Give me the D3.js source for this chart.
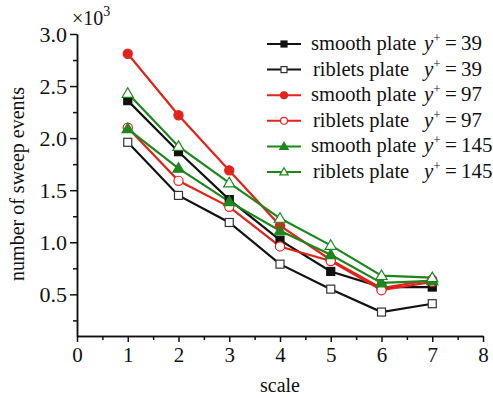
<!DOCTYPE html>
<html>
<head>
<meta charset="utf-8">
<script src="https://cdn.jsdelivr.net/npm/d3@7"></script>
<style>
  body { margin: 0; background: #fff; }
  svg text { font-family: "Liberation Serif", "Times New Roman", serif; fill: #111; }
  .axis path, .axis line { stroke: #111; stroke-width: 1.5; }
</style>
</head>
<body>
<script>
// data (values in units of 10^3)
var scales = [1, 2, 3, 4, 5, 6, 7];
var smooth39  = [2.36, 1.87, 1.41, 1.02, 0.72, 0.57, 0.57];
var riblets39 = [1.96, 1.45, 1.19, 0.79, 0.55, 0.33, 0.41];
var smooth97  = [2.81, 2.22, 1.69, 1.16, 0.83, 0.56, 0.64];
var riblets97 = [2.10, 1.59, 1.34, 0.96, 0.82, 0.54, 0.62];
var smooth145  = [2.09, 1.71, 1.39, 1.11, 0.88, 0.61, 0.63];
var riblets145 = [2.43, 1.92, 1.57, 1.23, 0.97, 0.68, 0.66];

var xTicks = [0, 1, 2, 3, 4, 5, 6, 7, 8];
var xMinor = [0.5, 1.5, 2.5, 3.5, 4.5, 5.5, 6.5, 7.5];
var yTicks = [0.5, 1.0, 1.5, 2.0, 2.5, 3.0];
var yMinor = [0.25, 0.75, 1.25, 1.75, 2.25, 2.75];

var black = "#111", red = "#e3221b", green = "#1d861d";
var serif = "'Liberation Serif', 'Times New Roman', serif";

var series = [
  {name: "smooth plate", yp: "39", values: smooth39, color: black, shape: "square", open: false},
  {name: "riblets plate", yp: "39", values: riblets39, color: black, shape: "square", open: true},
  {name: "smooth plate", yp: "97", values: smooth97, color: red, shape: "circle", open: false},
  {name: "riblets plate", yp: "97", values: riblets97, color: red, shape: "circle", open: true},
  {name: "smooth plate", yp: "145", values: smooth145, color: green, shape: "triangle", open: false},
  {name: "riblets plate", yp: "145", values: riblets145, color: green, shape: "triangle", open: true}
];

var width = 493, height = 398;
var svg = d3.select("body").append("svg")
  .attr("width", width)
  .attr("height", height);

var x = d3.scaleLinear().domain([0, 8]).range([77, 483]);
var y = d3.scaleLinear().domain([0.1, 3.0]).range([336, 34]);

// axes
var xAxis = svg.append("g").attr("class", "axis")
  .attr("transform", "translate(0,336)")
  .call(d3.axisBottom(x).tickValues(xTicks).tickSize(6).tickSizeOuter(0).tickPadding(5).tickFormat(d3.format("d")));
svg.append("g").attr("class", "axis")
  .attr("transform", "translate(0,336)")
  .call(d3.axisBottom(x).tickValues(xMinor).tickSize(4).tickSizeOuter(0).tickFormat(""));
xAxis.selectAll("text").attr("font-family", serif).style("font-size", "21px").attr("fill", "#111");

var yAxis = svg.append("g").attr("class", "axis")
  .attr("transform", "translate(77,0)")
  .call(d3.axisLeft(y).tickValues(yTicks).tickSize(7).tickSizeOuter(0).tickPadding(3).tickFormat(d3.format(".1f")));
svg.append("g").attr("class", "axis")
  .attr("transform", "translate(77,0)")
  .call(d3.axisLeft(y).tickValues(yMinor).tickSize(4).tickSizeOuter(0).tickFormat(""));
yAxis.selectAll("text").attr("font-family", serif).style("font-size", "22px").attr("fill", "#111");

// x10^3
var mult = svg.append("text").attr("x", 72).attr("y", 25).style("font-size", "20px");
mult.append("tspan").text("\u00d710");
mult.append("tspan").attr("dy", -9).style("font-size", "14px").text("3");

// axis titles
svg.append("text")
  .attr("x", x(4)).attr("y", 392)
  .attr("text-anchor", "middle")
  .style("font-size", "20px")
  .text("scale");
svg.append("text")
  .attr("transform", "translate(24,184) rotate(-90)")
  .attr("text-anchor", "middle")
  .style("font-size", "20px")
  .text("number of sweep events");

// markers
function drawMarker(g, s, cx, cy, k) {
  var fill = s.open ? "#fff" : s.color;
  if (s.shape === "square") {
    var h = 4 * k;
    g.append("rect").attr("x", cx - h).attr("y", cy - h).attr("width", 2 * h).attr("height", 2 * h)
      .attr("fill", fill).attr("stroke", s.open ? "#333" : s.color).attr("stroke-width", 1.2);
  } else if (s.shape === "circle") {
    g.append("circle").attr("cx", cx).attr("cy", cy).attr("r", 4.6 * k)
      .attr("fill", fill).attr("stroke", s.color).attr("stroke-width", 1.2);
  } else {
    var r = 5.6 * k;
    var pts = [[cx, cy - r], [cx + r, cy + r * 0.7], [cx - r, cy + r * 0.7]];
    g.append("polygon").attr("points", pts.map(function(p){ return p.join(","); }).join(" "))
      .attr("fill", fill).attr("stroke", s.color).attr("stroke-width", 1.2);
  }
}

var line = d3.line()
  .x(function(d) { return x(d.x); })
  .y(function(d) { return y(d.v); });

var plot = svg.append("g");
series.forEach(function(s) {
  var pts = scales.map(function(k, i) { return {x: k, v: s.values[i]}; });
  plot.append("path").attr("d", line(pts))
    .attr("fill", "none").attr("stroke", s.color).attr("stroke-width", 2.2);
});
series.forEach(function(s) {
  scales.forEach(function(k, i) {
    drawMarker(plot, s, x(k), y(s.values[i]), 1);
  });
});

// legend
var legend = svg.append("g");
series.forEach(function(s, i) {
  var by = 50 + i * 25.6;
  var cy = by - 6;
  legend.append("line").attr("x1", 267).attr("x2", 301).attr("y1", cy).attr("y2", cy)
    .attr("stroke", s.color).attr("stroke-width", 2);
  drawMarker(legend, s, 284, cy, 0.75);
  legend.append("text").attr("x", s.open ? 313 : 311).attr("y", by)
    .style("font-size", "20.5px").text(s.name);
  var t = legend.append("text").attr("x", 424).attr("y", by).style("font-size", "21px");
  t.append("tspan").style("font-style", "italic").text("y");
  t.append("tspan").attr("dy", -8).style("font-size", "13px").text("+");
  t.append("tspan").attr("dy", 8).text("\u2009=\u2009" + s.yp);
});
</script>
</body>
</html>
